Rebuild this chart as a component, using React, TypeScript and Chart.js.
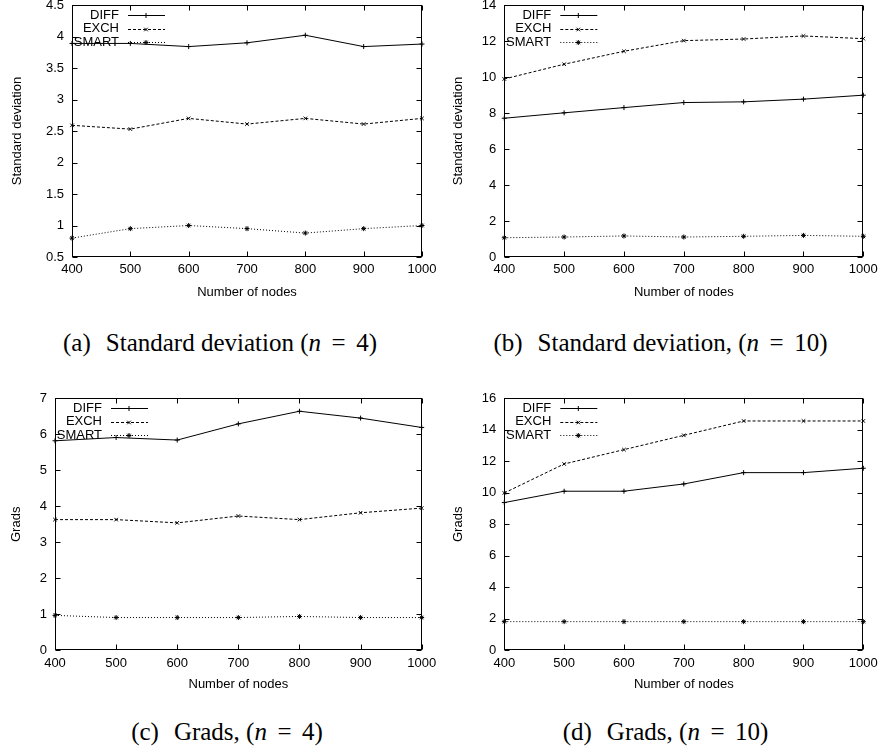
import React, { useEffect, useRef } from "react";
import { Chart, registerables } from "chart.js";

Chart.register(...registerables);

// ---------------- data ----------------
const nodes = [400, 500, 600, 700, 800, 900, 1000];
const seriesNames = ["DIFF", "EXCH", "SMART"];

const stdDiff4 = [3.89, 3.89, 3.84, 3.9, 4.02, 3.84, 3.88];
const stdExch4 = [2.59, 2.53, 2.7, 2.61, 2.7, 2.61, 2.7];
const stdSmart4 = [0.8, 0.95, 1.0, 0.95, 0.88, 0.95, 1.0];

const stdDiff10 = [7.71, 8.01, 8.3, 8.58, 8.62, 8.77, 8.99];
const stdExch10 = [9.89, 10.71, 11.43, 12.02, 12.11, 12.28, 12.13];
const stdSmart10 = [1.07, 1.11, 1.17, 1.11, 1.15, 1.2, 1.15];

const gradsDiff4 = [5.82, 5.91, 5.84, 6.29, 6.64, 6.45, 6.19];
const gradsExch4 = [3.63, 3.63, 3.54, 3.73, 3.63, 3.82, 3.95];
const gradsSmart4 = [0.97, 0.91, 0.91, 0.91, 0.94, 0.91, 0.91];

const gradsDiff10 = [9.38, 10.1, 10.1, 10.56, 11.28, 11.28, 11.56];
const gradsExch10 = [9.99, 11.83, 12.74, 13.65, 14.56, 14.56, 14.56];
const gradsSmart10 = [1.82, 1.82, 1.82, 1.82, 1.82, 1.82, 1.82];

const xTitle = "Number of nodes";
const yTitleStd = "Standard deviation";
const yTitleGrads = "Grads";

// ---------------- styles ----------------
const SANS = '"Liberation Sans", Arial, Helvetica, sans-serif';
const SERIF = '"Liberation Serif", "Times New Roman", serif';
const TICK_SIZE = 13;

const lineStyles = [
  { dash: [] as number[], point: "cross" },
  { dash: [3, 2], point: "crossRot" },
  { dash: [1, 2], point: "star" },
];

type Panel = {
  canvas: { left: number; top: number; w: number; h: number };
  area: { l: number; t: number; r: number; b: number };
  yTitleX: number;
  xTitleY: number;
  yMin: number;
  yMax: number;
  yStep: number;
  yTitle: string;
  series: number[][];
  tag: string;
  capText: string;
  nVal: string;
  capBox: { left: number; top: number; w: number };
};

const panels: Panel[] = [
  {
    canvas: { left: 0, top: 0, w: 440, h: 305 },
    area: { l: 72, t: 5, r: 422, b: 257 },
    yTitleX: 17,
    xTitleY: 292,
    yMin: 0.5,
    yMax: 4.5,
    yStep: 0.5,
    yTitle: yTitleStd,
    series: [stdDiff4, stdExch4, stdSmart4],
    tag: "(a)",
    capText: "Standard deviation",
    nVal: "4",
    capBox: { left: 0, top: 327, w: 440 },
  },
  {
    canvas: { left: 440, top: 0, w: 441, h: 305 },
    area: { l: 504.3, t: 5, r: 863.3, b: 257 },
    yTitleX: 458.3,
    xTitleY: 292,
    yMin: 0,
    yMax: 14,
    yStep: 2,
    yTitle: yTitleStd,
    series: [stdDiff10, stdExch10, stdSmart10],
    tag: "(b)",
    capText: "Standard deviation,",
    nVal: "10",
    capBox: { left: 440, top: 327, w: 441 },
  },
  {
    canvas: { left: 0, top: 370, w: 440, h: 330 },
    area: { l: 55, t: 398.3, r: 421.7, b: 650.3 },
    yTitleX: 16,
    xTitleY: 684,
    yMin: 0,
    yMax: 7,
    yStep: 1,
    yTitle: yTitleGrads,
    series: [gradsDiff4, gradsExch4, gradsSmart4],
    tag: "(c)",
    capText: "Grads,",
    nVal: "4",
    capBox: { left: 7, top: 716, w: 440 },
  },
  {
    canvas: { left: 440, top: 370, w: 441, h: 330 },
    area: { l: 504.3, t: 398.3, r: 863.3, b: 650.3 },
    yTitleX: 458,
    xTitleY: 684,
    yMin: 0,
    yMax: 16,
    yStep: 2,
    yTitle: yTitleGrads,
    series: [gradsDiff10, gradsExch10, gradsSmart10],
    tag: "(d)",
    capText: "Grads,",
    nVal: "10",
    capBox: { left: 445, top: 716, w: 441 },
  },
];

function drawMark(ctx: CanvasRenderingContext2D, style: string, x: number, y: number, r: number) {
  ctx.beginPath();
  if (style === "cross" || style === "star") {
    ctx.moveTo(x - r, y);
    ctx.lineTo(x + r, y);
    ctx.moveTo(x, y - r);
    ctx.lineTo(x, y + r);
  }
  if (style === "crossRot" || style === "star") {
    const d = r * Math.SQRT1_2;
    ctx.moveTo(x - d, y - d);
    ctx.lineTo(x + d, y + d);
    ctx.moveTo(x - d, y + d);
    ctx.lineTo(x + d, y - d);
  }
  ctx.stroke();
}

const gnuFrame = {
  id: "gnuFrame",
  afterDatasetsDraw(chart: any) {
    const { ctx, chartArea: a, scales } = chart;
    ctx.save();
    ctx.strokeStyle = "#000";
    ctx.lineWidth = 1;
    ctx.setLineDash([]);
    const L = Math.round(a.left) + 0.5;
    const R = Math.round(a.right) - 0.5;
    const T = Math.round(a.top) + 0.5;
    const B = Math.round(a.bottom) - 0.5;
    ctx.strokeRect(L, T, R - L, B - T);
    const tl = 5;
    ctx.beginPath();
    scales.x.ticks.forEach((t: any) => {
      const px = Math.round(scales.x.getPixelForValue(t.value)) + 0.5;
      ctx.moveTo(px, B);
      ctx.lineTo(px, B - tl);
      ctx.moveTo(px, T);
      ctx.lineTo(px, T + tl);
    });
    scales.y.ticks.forEach((t: any) => {
      const py = Math.round(scales.y.getPixelForValue(t.value)) + 0.5;
      ctx.moveTo(L, py);
      ctx.lineTo(L + tl, py);
      ctx.moveTo(R, py);
      ctx.lineTo(R - tl, py);
    });
    ctx.stroke();

    // key (top-left, gnuplot style)
    ctx.font = `${TICK_SIZE}px ${SANS}`;
    ctx.fillStyle = "#000";
    ctx.textAlign = "right";
    ctx.textBaseline = "middle";
    chart.data.datasets.forEach((ds: any, i: number) => {
      const y = a.top + 10 + i * 13.5;
      ctx.fillText(ds.label, a.left + 47, y);
      ctx.setLineDash(ds.borderDash || []);
      ctx.beginPath();
      ctx.moveTo(a.left + 56, Math.round(y) + 0.5);
      ctx.lineTo(a.left + 93, Math.round(y) + 0.5);
      ctx.stroke();
      ctx.setLineDash([]);
      drawMark(ctx, ds.pointStyle, a.left + 74, Math.round(y) + 0.5, 2.5);
    });
    ctx.restore();
  },
};

const plainTick = (v: any) => String(Math.round(Number(v) * 100) / 100);

function PanelChart({ p }: { p: Panel }) {
  const ref = useRef<HTMLCanvasElement>(null);
  useEffect(() => {
    if (!ref.current) return;
    const c = p.canvas;
    const lh = TICK_SIZE * 1.2;
    const areaL = p.area.l - c.left;
    const areaT = p.area.t - c.top;
    const areaR = p.area.r - c.left;
    const areaB = p.area.b - c.top;
    const padLeft = p.yTitleX - c.left - lh / 2;
    const padBottom = c.h - (p.xTitleY - c.top + lh / 2);
    const padTop = areaT;
    const padRight = c.w - areaR;
    const yW = areaL - padLeft;
    const xH = c.h - padBottom - areaB;

    const datasets = p.series.map((vals, i) => ({
      label: seriesNames[i],
      data: nodes.map((x, j) => ({ x, y: vals[j] })),
      borderColor: "#000",
      backgroundColor: "#000",
      borderWidth: 1,
      borderDash: lineStyles[i].dash,
      pointStyle: lineStyles[i].point,
      pointRadius: 2.5,
      pointBorderWidth: 1,
      pointBorderColor: "#000",
      pointBackgroundColor: "#000",
      fill: false,
      tension: 0,
      clip: false,
    }));

    const chart = new Chart(ref.current, {
      type: "line",
      data: { datasets } as any,
      options: {
        animation: false,
        responsive: false,
        maintainAspectRatio: false,
        devicePixelRatio: 1,
        events: [],
        layout: { padding: { left: padLeft, right: padRight, top: padTop, bottom: padBottom } },
        plugins: { legend: { display: false }, tooltip: { enabled: false } },
        scales: {
          x: {
            type: "linear",
            position: "bottom",
            min: 400,
            max: 1000,
            ticks: {
              stepSize: 100,
              color: "#000",
              font: { family: SANS, size: TICK_SIZE },
              padding: 5,
              maxRotation: 0,
              autoSkip: false,
              callback: plainTick,
            },
            grid: { display: false, drawTicks: false },
            border: { display: false },
            title: {
              display: true,
              text: xTitle,
              color: "#000",
              font: { family: SANS, size: TICK_SIZE, lineHeight: 1.2 },
              padding: 0,
            },
            afterFit: (s: any) => {
              s.height = xH;
              s.paddingLeft = 0;
              s.paddingRight = 0;
              s.paddingTop = 0;
              s.paddingBottom = 0;
            },
          },
          y: {
            type: "linear",
            position: "left",
            min: p.yMin,
            max: p.yMax,
            ticks: {
              stepSize: p.yStep,
              color: "#000",
              font: { family: SANS, size: TICK_SIZE },
              padding: 8,
              autoSkip: false,
              callback: plainTick,
            },
            grid: { display: false, drawTicks: false },
            border: { display: false },
            title: {
              display: true,
              text: p.yTitle,
              color: "#000",
              font: { family: SANS, size: TICK_SIZE, lineHeight: 1.2 },
              padding: 0,
            },
            afterFit: (s: any) => {
              s.width = yW;
              s.paddingLeft = 0;
              s.paddingRight = 0;
              s.paddingTop = 0;
              s.paddingBottom = 0;
            },
          },
        },
      } as any,
      plugins: [gnuFrame],
    });
    return () => chart.destroy();
  }, [p]);

  return (
    <canvas
      ref={ref}
      width={p.canvas.w}
      height={p.canvas.h}
      style={{ position: "absolute", left: p.canvas.left, top: p.canvas.top, width: p.canvas.w, height: p.canvas.h }}
    />
  );
}

export default function App() {
  return (
    <div style={{ position: "absolute", left: 0, top: 0, width: 881, height: 753, background: "#fff", overflow: "hidden" }}>
      {panels.map((p, i) => (
        <PanelChart key={i} p={p} />
      ))}
      {panels.map((p, i) => (
        <div
          key={"cap" + i}
          style={{
            position: "absolute",
            left: p.capBox.left,
            top: p.capBox.top,
            width: p.capBox.w,
            textAlign: "center",
            fontFamily: SERIF,
            fontSize: 25,
            lineHeight: "32px",
            color: "#000",
            whiteSpace: "nowrap",
          }}
        >
          <span style={{ marginRight: "0.6em" }}>{p.tag}</span>
          {p.capText} (<i>n</i>
          <span style={{ margin: "0 0.42em" }}>=</span>
          {p.nVal})
        </div>
      ))}
    </div>
  );
}
